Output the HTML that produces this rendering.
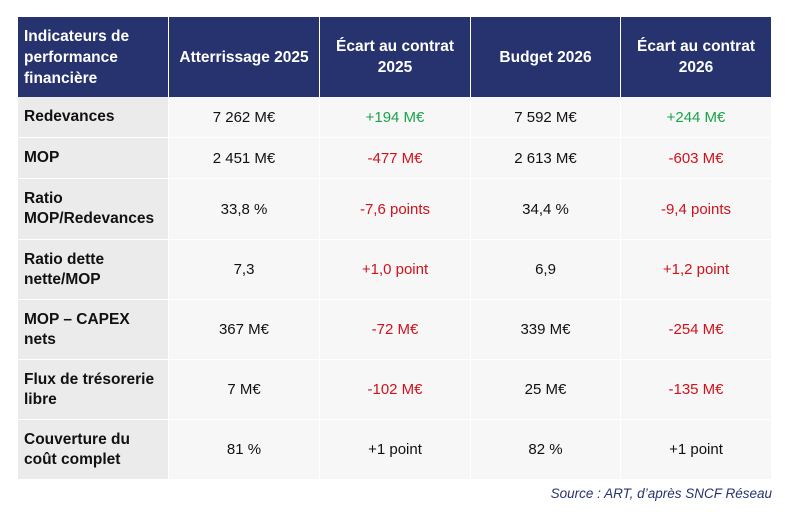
<!DOCTYPE html>
<html><head><meta charset="utf-8"><style>
body{margin:0;width:796px;height:514px;background:#fff;font-family:"Liberation Sans",Arial,sans-serif;position:relative;overflow:hidden}
.c{position:absolute;display:flex;align-items:center;box-sizing:border-box;font-size:15px;color:#111}
.h{background:#27336e;color:#fff;font-weight:bold;justify-content:center;text-align:center;line-height:21px;font-size:15.5px}
.f{background:#ebebeb;font-weight:bold;padding-left:6px;line-height:20px;font-size:15.5px}
.v{background:#f7f7f7;justify-content:center}
.g{color:#1aa34a}.r{color:#d0121b}
#src{position:absolute;right:24px;top:486px;font-style:italic;font-size:13.5px;color:#27336e}
</style></head><body>
<div id="t"></div>
<div id="src">Source : ART, d’après SNCF Réseau</div>
<script>
const cols=[18,169,320,471,621,772];
const rowsY=[17,97,138,179,240,300,360,420,480];
const headers=["Indicateurs de<br>performance<br>financière","Atterrissage 2025","Écart au contrat<br>2025","Budget 2026","Écart au contrat<br>2026"];
const data=[
["Redevances","7 262 M€","+194 M€","7 592 M€","+244 M€"],
["MOP","2 451 M€","-477 M€","2 613 M€","-603 M€"],
["Ratio<br>MOP/Redevances","33,8 %","-7,6 points","34,4 %","-9,4 points"],
["Ratio dette<br>nette/MOP","7,3","+1,0 point","6,9","+1,2 point"],
["MOP – CAPEX<br>nets","367 M€","-72 M€","339 M€","-254 M€"],
["Flux de trésorerie<br>libre","7 M€","-102 M€","25 M€","-135 M€"],
["Couverture du<br>coût complet","81 %","+1 point","82 %","+1 point"]];
const t=document.getElementById('t');
function cell(x0,x1,y0,y1,cls,html){const d=document.createElement('div');d.className='c '+cls;
d.style.left=x0+'px';d.style.top=y0+'px';d.style.width=(x1-x0-1)+'px';d.style.height=(y1-y0-1)+'px';d.innerHTML='<span>'+html+'</span>';t.appendChild(d);return d;}
headers.forEach((h,i)=>{const d=cell(cols[i],cols[i+1],rowsY[0],rowsY[1]+1,'h',h);
if(i===0){d.style.justifyContent='flex-start';d.style.textAlign='left';d.style.paddingLeft='6px';}

});
data.forEach((row,ri)=>{row.forEach((v,ci)=>{let cls=ci===0?'f':'v';
if(ci===2||ci===4)cls+=v[0]==='+'&&ri<1?' g':(v[0]==='-'?' r':(ri===3?' r':''));
const d=cell(cols[ci],cols[ci+1],rowsY[ri+1],rowsY[ri+2],cls,v);

});});
</script>
</body></html>
